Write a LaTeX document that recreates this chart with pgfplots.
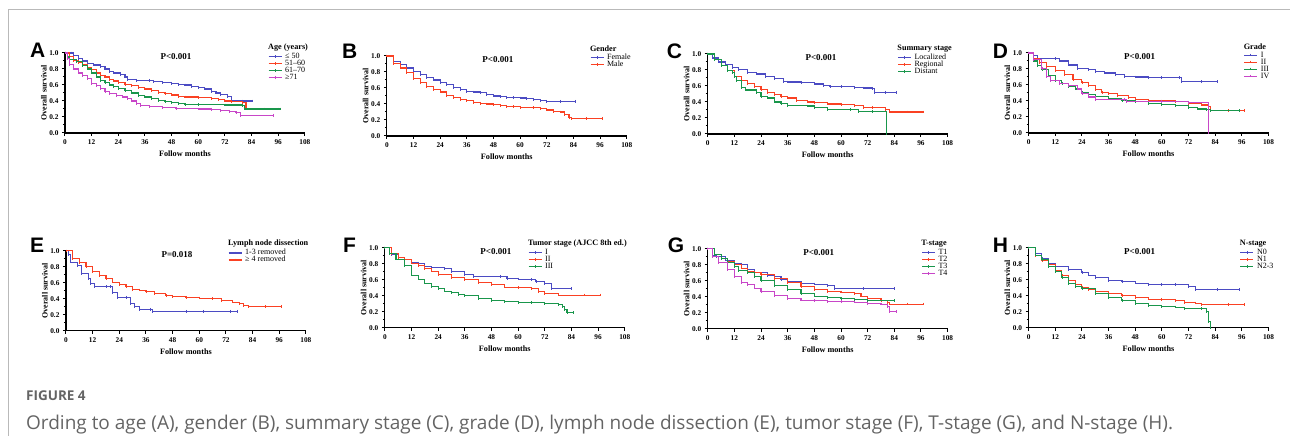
\documentclass[border=0pt]{standalone}
\usepackage{fontspec}
\setmainfont{Liberation Serif}
\newfontfamily\lettfont{Liberation Sans}
\newfontfamily\capfont{Open Sans}
\usepackage{pgfplots}
\pgfplotsset{compat=1.18}

\definecolor{kmblue}{RGB}{75,75,195}
\definecolor{kmred}{RGB}{250,65,35}
\definecolor{kmgreen}{RGB}{25,150,75}
\definecolor{kmmag}{RGB}{200,70,200}
\definecolor{capgray}{RGB}{100,100,100}
\definecolor{framegray}{RGB}{185,185,185}

\tikzset{
  pval/.style={font=\fontsize{9}{9}\selectfont\bfseries},
  ltitle/.style={anchor=south west, font=\fontsize{8.2}{8}\selectfont\bfseries, inner sep=0pt, yshift=1.5pt},
}

\pgfplotsset{
  km/.style={
    scale only axis, width=240pt, height=80pt, anchor=south west,
    xmin=0, xmax=108, ymin=0, ymax=1,
    clip mode=individual,
    axis lines*=left,
    axis line style={line width=1.2pt},
    xtick={0,12,...,108}, ytick={0,0.2,...,1.0},
    minor y tick num=1,
    tick align=outside,
    major tick length=3pt, minor tick length=2pt,
    every tick/.style={black, line width=1pt},
    /pgf/number format/assume math mode=true,
    ticklabel style={font=\fontsize{7.3}{7.3}\selectfont\bfseries},
    yticklabel style={/pgf/number format/.cd, fixed, fixed zerofill, precision=1},
    xlabel={Follow months}, ylabel={Overall survival},
    every axis x label/.style={at={(axis description cs:0.5,-0.265)}, anchor=center, font=\fontsize{8.2}{8}\selectfont\bfseries},
    every axis y label/.style={at={(axis description cs:-0.088,0.5)}, rotate=90, anchor=center, font=\fontsize{8}{8}\selectfont\bfseries},
    legend style={draw=none, fill=none, anchor=north west, font=\fontsize{8}{7}\selectfont,
      row sep=0pt, column sep=3pt, inner sep=0pt, nodes={inner sep=0pt, text height=5.5pt, text depth=1.5pt},
      cells={anchor=west}},
    legend image code/.code={\draw[mark repeat=2, mark phase=2, #1] plot coordinates {(0pt,0pt) (6.5pt,0pt) (13pt,0pt)};},
    every axis plot/.append style={const plot, line width=1.1pt, mark=|, mark size=1.4pt, mark options={solid, line width=0.8pt}},
  },
}

\begin{document}
\begin{tikzpicture}[x=1pt, y=1pt]
\path (0,0) rectangle (1290,436);
\draw[framegray, line width=1pt] (9,0) -- (9,426) -- (1290,426);

% panel letters
\foreach \l/\px/\py in {A/30/385.5, B/342/384.5, C/667/385, D/993/385, E/30/191, F/343/191, G/668/191, H/993/191}
  \node[anchor=west, inner sep=0pt, font=\lettfont\fontsize{21}{21}\selectfont\bfseries] at (\px,\py) {\l};

% ---------- A: age
\begin{axis}[km, at={(65pt,303pt)}, legend style={at={(0.846,1.0)}}]
\addplot[kmblue] coordinates {(0,1)(3,1)(4,0.97)(6,0.93)(8,0.90)(10,0.87)(13,0.85)(16,0.83)(18,0.80)(20,0.77)(22,0.75)(25,0.73)(27,0.70)(28,0.67)(32,0.66)(38,0.66)(40,0.645)(44,0.635)(48,0.62)(51,0.61)(54,0.60)(57,0.58)(60,0.565)(63,0.55)(66,0.52)(68,0.50)(70,0.48)(73,0.46)(75,0.40)(80,0.40)(84.5,0.40)};
\addlegendentry{≤ 50}
\addplot[kmred] coordinates {(0,1)(2,0.96)(4,0.91)(6,0.88)(8,0.85)(10,0.82)(12,0.79)(14,0.75)(16,0.72)(18,0.70)(20,0.67)(22,0.65)(24,0.63)(27,0.61)(30,0.59)(33,0.57)(36,0.55)(39,0.53)(42,0.51)(45,0.49)(48,0.475)(51,0.46)(54,0.45)(60,0.44)(66,0.435)(69,0.42)(72,0.40)(75,0.39)(80,0.38)(81.5,0.30)(90,0.30)(96,0.30)};
\addlegendentry{51--60}
\addplot[kmgreen] coordinates {(0,1)(1,0.95)(2,0.92)(5,0.89)(8,0.84)(10,0.80)(12,0.75)(14,0.70)(16,0.66)(18,0.63)(20,0.60)(22,0.58)(24,0.56)(27,0.53)(30,0.50)(33,0.47)(36,0.45)(39,0.43)(42,0.41)(45,0.395)(48,0.38)(51,0.37)(54,0.36)(60,0.355)(72,0.35)(80,0.34)(81,0.30)(97,0.30)};
\addlegendentry{61--70}
\addplot[kmmag] coordinates {(0,1)(1,0.93)(2,0.86)(4,0.80)(6,0.75)(8,0.72)(10,0.68)(12,0.62)(14,0.59)(16,0.56)(18,0.52)(20,0.49)(23,0.47)(26,0.45)(28,0.43)(30,0.40)(32,0.37)(34,0.34)(38,0.33)(44,0.32)(50,0.31)(60,0.30)(66,0.295)(70,0.28)(74,0.27)(77,0.255)(79,0.22)(94,0.22)};
\addlegendentry{≥71}
\node[pval] at (axis cs:50,0.95) {P<0.001};
\node[ltitle] at (rel axis cs:0.846,1.0) {Age (years)};
\end{axis}

% ---------- B: gender
\begin{axis}[km, at={(387pt,300pt)}, legend style={at={(0.846,1.03)}}]
\addplot[kmblue] coordinates {(0,1)(3,0.93)(6,0.89)(9,0.85)(12,0.81)(15,0.77)(18,0.73)(21,0.70)(24,0.67)(27,0.64)(30,0.61)(33,0.58)(36,0.56)(39,0.55)(42,0.54)(45,0.52)(48,0.50)(51,0.49)(54,0.485)(57,0.48)(60,0.475)(63,0.47)(66,0.46)(69,0.44)(72,0.435)(78,0.435)(85,0.435)};
\addlegendentry{Female}
\addplot[kmred] coordinates {(0,1)(3,0.91)(6,0.85)(9,0.79)(12,0.72)(15,0.67)(18,0.62)(21,0.58)(24,0.55)(27,0.51)(30,0.48)(33,0.46)(36,0.44)(39,0.42)(42,0.41)(45,0.40)(48,0.39)(51,0.38)(54,0.37)(57,0.365)(60,0.36)(66,0.355)(69,0.34)(72,0.325)(75,0.31)(78,0.30)(80,0.27)(82,0.23)(83,0.22)(90,0.22)(97,0.22)};
\addlegendentry{Male}
\node[pval] at (axis cs:50,0.95) {P<0.001};
\node[ltitle] at (rel axis cs:0.846,1.03) {Gender};
\end{axis}

% ---------- C: summary stage
\begin{axis}[km, at={(708pt,302pt)}, legend style={at={(0.79,1.0)}}]
\addplot[kmblue] coordinates {(0,1)(2,0.95)(5,0.90)(8,0.87)(11,0.83)(14,0.81)(18,0.77)(22,0.75)(26,0.72)(30,0.69)(34,0.66)(36,0.65)(42,0.645)(48,0.625)(52,0.61)(55,0.59)(60,0.59)(66,0.58)(70,0.575)(74,0.57)(75,0.52)(80,0.52)(85,0.52)};
\addlegendentry{Localized}
\addplot[kmred] coordinates {(0,1)(3,0.93)(6,0.86)(9,0.79)(12,0.72)(15,0.67)(18,0.63)(21,0.59)(24,0.56)(27,0.52)(30,0.49)(33,0.47)(36,0.45)(40,0.42)(45,0.40)(48,0.39)(54,0.375)(60,0.37)(66,0.355)(70,0.335)(74,0.33)(80,0.31)(82,0.275)(90,0.275)(97,0.275)};
\addlegendentry{Regional}
\addplot[kmgreen] coordinates {(0,1)(3,0.93)(6,0.86)(9,0.79)(11,0.77)(12,0.72)(13,0.67)(15,0.58)(17,0.55)(22,0.52)(24,0.47)(27,0.45)(30,0.40)(33,0.38)(36,0.36)(45,0.35)(48,0.33)(54,0.31)(64,0.31)(68,0.28)(74,0.28)(80.5,0)};
\addlegendentry{Distant}
\node[pval] at (axis cs:51,0.95) {P<0.001};
\node[ltitle] at (rel axis cs:0.79,1.0) {Summary stage};
\end{axis}

% ---------- D: grade
\begin{axis}[km, at={(1029pt,303pt)}, legend style={at={(0.896,1.02)}}]
\addplot[kmblue] coordinates {(0,1)(2,0.97)(4,0.93)(12,0.93)(14,0.90)(18,0.85)(22,0.81)(27,0.79)(30,0.77)(34,0.75)(39,0.73)(43,0.71)(48,0.70)(54,0.69)(60,0.69)(68,0.69)(69,0.64)(78,0.64)(85,0.64)};
\addlegendentry{I}
\addplot[kmred] coordinates {(0,1)(2,0.93)(5,0.88)(8,0.83)(12,0.78)(16,0.73)(20,0.67)(24,0.63)(27,0.59)(30,0.54)(33,0.51)(36,0.49)(40,0.47)(45,0.44)(48,0.42)(54,0.41)(60,0.40)(66,0.39)(72,0.37)(78,0.35)(81,0.33)(82,0.28)(90,0.28)(97,0.28)};
\addlegendentry{II}
\addplot[kmgreen] coordinates {(0,1)(2,0.90)(4,0.84)(6,0.79)(9,0.72)(12,0.66)(15,0.62)(18,0.58)(21,0.55)(24,0.51)(27,0.48)(30,0.46)(36,0.43)(42,0.41)(48,0.39)(54,0.37)(60,0.36)(66,0.34)(72,0.32)(76,0.30)(80,0.29)(82,0.28)(95,0.28)};
\addlegendentry{III}
\addplot[kmmag] coordinates {(0,1)(2,0.92)(6,0.81)(8,0.71)(10,0.66)(14,0.62)(18,0.59)(22,0.55)(24,0.49)(27,0.45)(30,0.42)(43,0.42)(44,0.39)(60,0.39)(72,0.385)(81,0)};
\addlegendentry{IV}
\node[pval] at (axis cs:50,0.95) {P<0.001};
\node[ltitle] at (rel axis cs:0.896,1.02) {Grade};
\end{axis}

% ---------- E: lymph node dissection
\begin{axis}[km, at={(66pt,105pt)}, legend style={at={(0.675,1.02)}}]
\addplot[kmblue] coordinates {(0,1)(1,0.95)(2,0.86)(5,0.82)(7,0.72)(10,0.65)(11,0.59)(13,0.55)(18,0.55)(20,0.55)(21,0.48)(23,0.42)(27,0.42)(29,0.34)(31,0.30)(33,0.27)(38,0.27)(39,0.245)(54,0.245)(62,0.245)(74,0.245)(77,0.245)};
\addlegendentry{1-3 removed}
\addplot[kmred] coordinates {(0,1)(3,0.90)(6,0.85)(9,0.80)(12,0.74)(15,0.69)(18,0.65)(21,0.61)(24,0.58)(27,0.55)(30,0.52)(33,0.51)(36,0.49)(40,0.47)(45,0.44)(48,0.43)(54,0.42)(60,0.41)(66,0.40)(70,0.38)(75,0.36)(78,0.34)(80,0.32)(82,0.30)(90,0.30)(97,0.30)};
\addlegendentry{≥ 4 removed}
\node[pval] at (axis cs:50,0.95) {P=0.018};
\node[ltitle] at (rel axis cs:0.675,1.02) {Lymph node dissection};
\end{axis}

% ---------- F: tumor stage
\begin{axis}[km, at={(385pt,108pt)}, legend style={at={(0.596,0.99)}}]
\addplot[kmblue] coordinates {(0,1)(3,0.92)(6,0.88)(9,0.85)(12,0.82)(15,0.80)(18,0.77)(21,0.75)(27,0.74)(30,0.70)(36,0.67)(40,0.645)(52,0.645)(55,0.62)(60,0.61)(66,0.60)(68,0.58)(72,0.55)(75,0.49)(84,0.49)};
\addlegendentry{I}
\addplot[kmred] coordinates {(0,1)(3,0.93)(6,0.88)(9,0.85)(12,0.81)(15,0.78)(18,0.74)(21,0.71)(24,0.67)(30,0.63)(36,0.60)(42,0.57)(48,0.54)(54,0.51)(60,0.50)(66,0.49)(69,0.45)(72,0.43)(78,0.41)(90,0.41)(97,0.41)};
\addlegendentry{II}
\addplot[kmgreen] coordinates {(0,1)(2,0.93)(5,0.86)(9,0.78)(12,0.66)(15,0.61)(18,0.56)(21,0.52)(24,0.49)(27,0.46)(30,0.44)(33,0.42)(36,0.40)(42,0.37)(48,0.345)(54,0.33)(60,0.32)(66,0.315)(72,0.30)(78,0.29)(80,0.27)(81,0.23)(82,0.19)(85,0.19)};
\addlegendentry{III}
\node[pval] at (axis cs:50,0.95) {P<0.001};
\node[ltitle] at (rel axis cs:0.596,0.99) {Tumor stage (AJCC 8th ed.)};
\end{axis}

% ---------- G: T-stage
\begin{axis}[km, at={(708pt,107pt)}, legend style={at={(0.89,1.0)}}]
\addplot[kmblue] coordinates {(0,1)(2,0.92)(4,0.90)(8,0.86)(12,0.82)(15,0.81)(18,0.74)(21,0.70)(27,0.67)(30,0.65)(33,0.62)(36,0.59)(42,0.57)(48,0.56)(54,0.54)(57,0.50)(70,0.50)(84,0.50)};
\addlegendentry{T1}
\addplot[kmred] coordinates {(0,1)(3,0.93)(6,0.88)(9,0.84)(12,0.80)(15,0.76)(18,0.72)(21,0.70)(24,0.68)(30,0.63)(36,0.58)(42,0.53)(48,0.49)(54,0.47)(60,0.46)(66,0.44)(69,0.41)(72,0.38)(78,0.35)(81,0.33)(82,0.31)(90,0.31)(97,0.31)};
\addlegendentry{T2}
\addplot[kmgreen] coordinates {(0,1)(3,0.93)(6,0.88)(9,0.83)(12,0.78)(14,0.73)(18,0.70)(21,0.65)(24,0.60)(30,0.54)(36,0.49)(42,0.44)(48,0.41)(54,0.39)(60,0.38)(66,0.37)(72,0.35)(84,0.35)};
\addlegendentry{T3}
\addplot[kmmag] coordinates {(0,1)(2,0.90)(5,0.83)(9,0.74)(12,0.65)(15,0.58)(18,0.55)(21,0.51)(24,0.47)(30,0.42)(36,0.38)(42,0.36)(48,0.35)(54,0.345)(60,0.34)(66,0.335)(72,0.32)(78,0.31)(81,0.28)(82,0.22)(85,0.22)};
\addlegendentry{T4}
\node[pval] at (axis cs:50,0.95) {P<0.001};
\node[ltitle] at (rel axis cs:0.89,1.0) {T-stage};
\end{axis}

% ---------- H: N-stage
\begin{axis}[km, at={(1029pt,108pt)}, legend style={at={(0.88,0.99)}}]
\addplot[kmblue] coordinates {(0,1)(3,0.93)(6,0.87)(9,0.81)(12,0.77)(18,0.73)(24,0.69)(27,0.66)(30,0.63)(36,0.59)(42,0.575)(48,0.56)(54,0.545)(60,0.54)(66,0.54)(72,0.52)(75,0.48)(85,0.48)(95,0.48)};
\addlegendentry{N0}
\addplot[kmred] coordinates {(0,1)(3,0.90)(6,0.84)(9,0.79)(12,0.72)(15,0.65)(18,0.59)(21,0.54)(24,0.51)(27,0.48)(30,0.46)(36,0.43)(42,0.40)(48,0.38)(54,0.36)(60,0.35)(66,0.34)(70,0.315)(75,0.31)(78,0.29)(90,0.29)(97,0.29)};
\addlegendentry{N1}
\addplot[kmgreen] coordinates {(0,1)(3,0.91)(6,0.85)(9,0.77)(12,0.70)(15,0.63)(18,0.55)(21,0.52)(24,0.49)(30,0.43)(36,0.38)(42,0.34)(48,0.30)(54,0.28)(60,0.27)(66,0.26)(70,0.245)(78,0.245)(80,0.20)(81,0.08)(82,0)};
\addlegendentry{N2-3}
\node[pval] at (axis cs:50,0.95) {P<0.001};
\node[ltitle] at (rel axis cs:0.88,0.99) {N-stage};
\end{axis}

% caption
\node[anchor=base west, inner sep=0pt, text=capgray, font=\capfont\bfseries\fontsize{13.5}{13.5}\selectfont] at (26,35) {FIGURE 4};
\node[anchor=base west, inner sep=0pt, text=capgray, font=\capfont\fontsize{19}{19}\selectfont] at (26,6) {Ording to age (A), gender (B), summary stage (C), grade (D), lymph node dissection (E), tumor stage (F), T-stage (G), and N-stage (H).};
\end{tikzpicture}
\end{document}
